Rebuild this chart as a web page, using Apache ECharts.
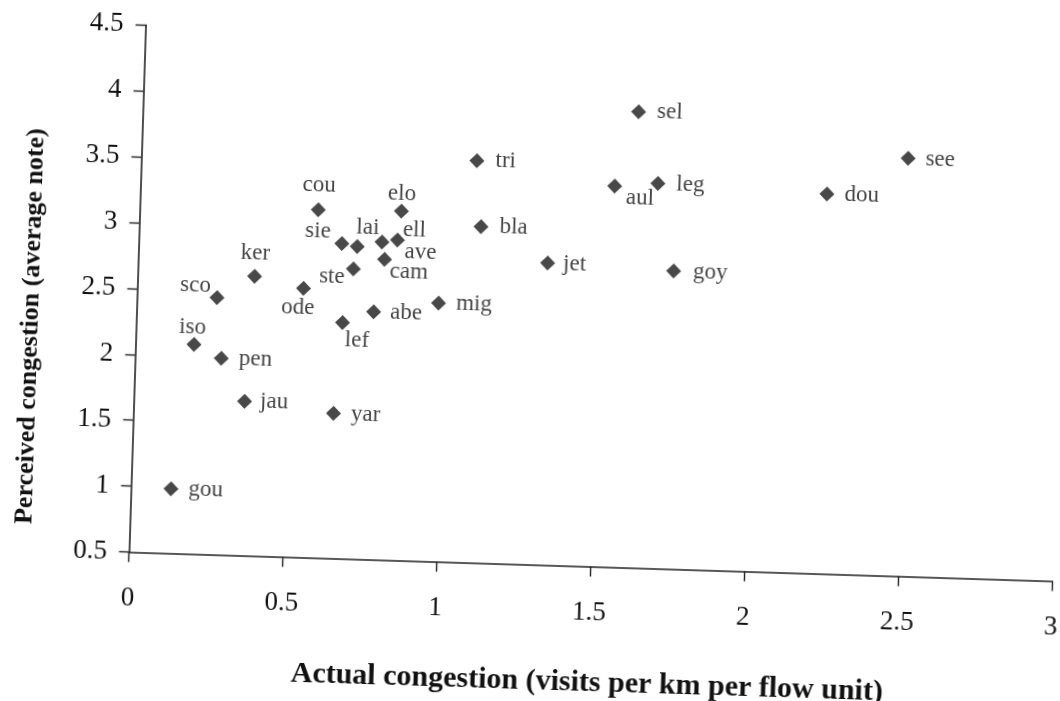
<!DOCTYPE html>
<html>
<head>
<meta charset="utf-8">
<script src="https://cdn.jsdelivr.net/npm/echarts@6/dist/echarts.min.js"></script>
<style>
  html, body { margin: 0; padding: 0; background: #ffffff; overflow: hidden; width: 1060px; height: 701px; }
  #chart { position: absolute; left: 0; top: 0; width: 1120px; height: 740px;
           transform: rotate(1.8deg); transform-origin: 530px 350.5px; }
</style>
</head>
<body>
<div id="chart"></div>
<script>
// ---- data ----
const names = ['gou','iso','sco','pen','jau','ker','ode','cou','sie','lai','ste','lef','yar','abe',
               'cam','ell','ave','elo','mig','tri','bla','jet','aul','sel','leg','goy','dou','see'];
const actualCongestion = [0.13,0.19,0.26,0.28,0.36,0.38,0.54,0.58,0.66,0.71,0.70,0.67,0.65,0.77,
                          0.80,0.79,0.84,0.85,0.98,1.09,1.11,1.33,1.54,1.61,1.68,1.74,2.23,2.49];
const perceivedCongestion = [0.99,2.09,2.45,1.99,1.67,2.62,2.54,3.14,2.89,2.87,2.70,2.29,1.60,2.38,
                             2.78,2.91,2.93,3.15,2.46,3.55,3.05,2.79,3.39,3.96,3.42,2.76,3.38,3.67];
const xTicks = { min: 0, max: 3, interval: 0.5 };
const yTicks = { min: 0.5, max: 4.5, interval: 0.5 };
const xTitle = 'Actual congestion (visits per km per flow unit)';
const yTitle = 'Perceived congestion (average note)';

// ---- label placement (style only): [position, distance, [dx, dy]] ----
const labelPlacement = {
  gou: ['right', 10], iso: ['top', -2, [-2, 0]], sco: ['left', 0, [1, -11]], pen: ['right', 10],
  jau: ['right', 8], ker: ['top', 4], ode: ['bottom', 0, [-5, 0]], cou: ['top', 6],
  sie: ['left', 4, [0, -11]], lai: ['top', 0, [10, 0]], ste: ['left', 1, [0, 8]],
  lef: ['bottom', -2, [15, 0]], yar: ['right', 10], abe: ['right', 9], cam: ['right', 0, [-2, 12]],
  ell: ['right', 13, [0, -13]], ave: ['right', 0, [0, 12]], elo: ['top', -2], mig: ['right', 10],
  tri: ['right', 11], bla: ['right', 11], jet: ['right', 8], aul: ['right', 4, [0, 11]],
  sel: ['right', 11], leg: ['right', 11], goy: ['right', 12], dou: ['right', 10], see: ['right', 10]
};

const serif = '"Liberation Serif", "DejaVu Serif", serif';

const points = names.map((n, i) => {
  const p = labelPlacement[n] || ['right', 8];
  return {
    name: n,
    value: [actualCongestion[i], perceivedCongestion[i]],
    label: { position: p[0], distance: p[1] }
  };
});

const chart = echarts.init(document.getElementById('chart'), null, { renderer: 'canvas' });
chart.setOption({
  backgroundColor: '#ffffff',
  animation: false,
  grid: { left: 135.5, top: 37.2, right: 61.1, bottom: 175.5, containLabel: false },
  xAxis: {
    type: 'value', min: xTicks.min, max: xTicks.max, interval: xTicks.interval,
    name: xTitle, nameLocation: 'middle', nameGap: 102,
    nameTextStyle: { fontFamily: serif, fontWeight: 'bold', fontSize: 30, color: '#111' },
    axisLine: { show: true, onZero: false, lineStyle: { color: '#222', width: 1.6 } },
    axisTick: { show: true, inside: false, length: 10, lineStyle: { color: '#222', width: 1.4 } },
    axisLabel: { fontFamily: serif, fontSize: 27, color: '#111', margin: 33 },
    splitLine: { show: false }
  },
  yAxis: {
    type: 'value', min: yTicks.min, max: yTicks.max, interval: yTicks.interval,
    name: yTitle, nameLocation: 'middle', nameGap: 92, nameRotate: 90,
    nameTextStyle: { fontFamily: serif, fontWeight: 'bold', fontSize: 26, color: '#111',
                     padding: [0, 82, 0, 0] },
    axisLine: { show: true, onZero: false, lineStyle: { color: '#222', width: 1.6 } },
    axisTick: { show: true, inside: false, length: 10, lineStyle: { color: '#222', width: 1.4 } },
    axisLabel: { fontFamily: serif, fontSize: 27, color: '#111', margin: 22 },
    splitLine: { show: false }
  },
  series: [{
    type: 'scatter',
    symbol: 'diamond',
    symbolSize: 15,
    itemStyle: { color: '#1a1a1a' },
    label: {
      show: true,
      formatter: '{b}',
      fontFamily: serif, fontSize: 23, color: '#111'
    },
    labelLayout: function (params) {
      const p = labelPlacement[names[params.dataIndex]] || [];
      const off = p[2] || [0, 0];
      return { dx: off[0], dy: off[1], hideOverlap: false };
    },
    data: points
  }]
});
</script>
</body>
</html>
